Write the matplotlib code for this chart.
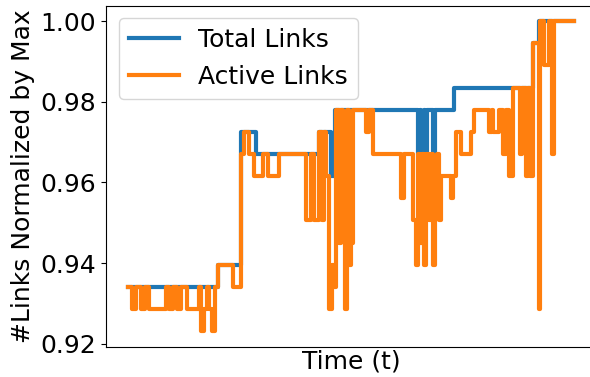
import matplotlib
matplotlib.use("Agg")
import matplotlib.pyplot as plt
import numpy as np

# Link counts per time step; each value holds until the next change time.
max_links = 182

total_times = [0, 90, 113, 128, 191, 203, 207, 290, 292, 293, 296, 297, 299, 305, 307,
               326, 405, 411, 446]
total_counts = [170, 171, 177, 176, 177, 175, 178, 176, 178, 176, 178, 176, 178, 174, 178,
                179, 181, 182, 182]

active_times = [0, 4, 8, 13, 17, 21, 38, 41, 45, 49, 53, 59, 71, 73, 76, 79, 81, 84, 87,
                90, 105, 113, 116, 121, 126, 135, 140, 151, 178, 183, 186,
                191, 194, 196, 198, 201, 204, 206, 208, 211, 213, 215, 217, 219, 221, 223,
                225, 238, 241, 245, 273, 276, 285, 288, 290, 292, 294, 296, 298, 301, 303,
                305, 307, 309, 311, 313, 323, 325, 328, 333, 343, 346, 361, 364, 365, 371,
                375, 378, 381, 385, 392, 394, 398, 400, 402, 405, 411, 412, 416, 421, 424,
                426, 446]
active_counts = [170, 169, 170, 169, 170, 169, 170, 169, 170, 169, 170, 169, 170, 168, 169,
                 170, 169, 168, 170,
                 171, 170, 176, 177, 176, 175, 176, 175, 176, 173, 176, 173,
                 177, 173, 177, 175, 169, 171, 170, 178, 172, 178, 173, 169, 178, 171, 172,
                 178, 177, 178, 176, 174, 176, 173, 171, 176, 172, 176, 171, 176, 173, 176,
                 171, 175, 176, 173, 175, 174, 175, 177, 176, 177, 178, 177, 178, 177, 178,
                 176, 178, 175, 179, 176, 179, 175, 179, 175, 181, 169, 182, 180, 182, 176,
                 182, 182]

total_norm = np.array(total_counts) / max_links
active_norm = np.array(active_counts) / max_links

fig = plt.figure(figsize=(5.9, 3.77), dpi=100)
ax = fig.add_axes([106 / 590, 30.3 / 377, 490.6 / 590, 341.0 / 377])

ax.step(total_times, total_norm, where="post", color="#1f77b4", lw=3,
        solid_joinstyle="round", label="Total Links")
ax.step(active_times, active_norm, where="post", color="#ff7f0e", lw=3,
        solid_joinstyle="round", label="Active Links")

ax.set_xticks([])
ax.set_yticks([0.92, 0.94, 0.96, 0.98, 1.00])
ax.tick_params(axis="y", labelsize=18)
ax.set_xlabel("Time (t)", fontsize=18, labelpad=2)
ax.set_ylabel("#Links Normalized by Max", fontsize=18, labelpad=4)
ax.legend(loc="upper left", fontsize=18)

fig.savefig("out.png", dpi=100)
